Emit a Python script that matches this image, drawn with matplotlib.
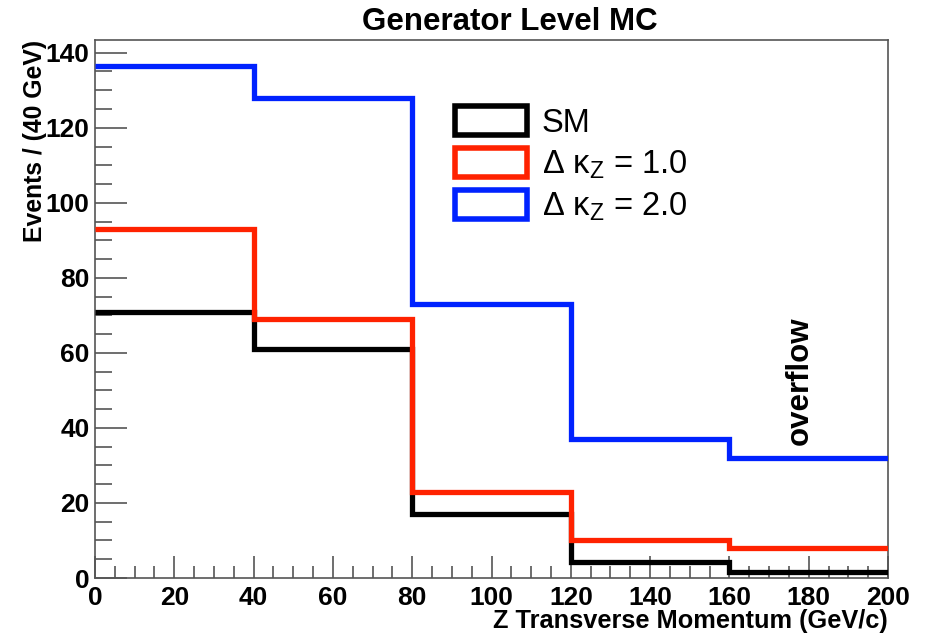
import matplotlib
matplotlib.use('Agg')
import matplotlib.pyplot as plt
from matplotlib.patches import Patch
from matplotlib.ticker import MultipleLocator
import numpy as np

plt.rcParams['font.family'] = ['Liberation Sans', 'DejaVu Sans']
plt.rcParams['mathtext.default'] = 'regular'

# bin edges (GeV/c) and contents per 40 GeV bin
edges = [0, 40, 80, 120, 160, 200]
sm = [71, 61, 17, 4.2, 1.6]
dk1 = [93, 69, 23, 10, 8]
dk2 = [136.5, 128, 73, 37, 32]

labels = ['SM', u'\u0394 \u03ba$_{Z}$ = 1.0', u'\u0394 \u03ba$_{Z}$ = 2.0']
colors = ['black', '#ff2200', '#0022ff']

fig = plt.figure(figsize=(9.26, 6.34), dpi=100)
ax = fig.add_axes([0.1026, 0.0883, 0.959 - 0.1026, 0.937 - 0.0883])

for vals, c in zip((sm, dk1, dk2), colors):
    ax.stairs(vals, edges, baseline=None, color=c, linewidth=3.8, zorder=3)

ax.set_xlim(0, 200)
ax.set_ylim(0, 143.4)

ax.xaxis.set_major_locator(MultipleLocator(20))
ax.xaxis.set_minor_locator(MultipleLocator(5))
ax.yaxis.set_major_locator(MultipleLocator(20))
ax.yaxis.set_minor_locator(MultipleLocator(5))
ax.tick_params(axis='both', which='both', direction='in', color='#555555',
               top=False, right=False)
ax.tick_params(axis='y', which='major', length=23, width=1.2, labelsize=19, pad=4)
ax.tick_params(axis='y', which='minor', length=12, width=1.2)
ax.tick_params(axis='x', which='major', length=16, width=1.2, labelsize=19, pad=5.5)
ax.tick_params(axis='x', which='minor', length=9, width=1.2)
for lab in ax.get_xticklabels() + ax.get_yticklabels():
    lab.set_fontweight('bold')
for s in ax.spines.values():
    s.set_color('#555555')
    s.set_linewidth(1.2)

ax.set_xlabel('Z Transverse Momentum (GeV/c)', fontsize=18.3, fontweight='bold',
              ha='right', va='baseline')
ax.xaxis.set_label_coords(1.0, -(628 - 578) / 538)
ax.set_ylabel('Events / (40 GeV)', loc='top', fontsize=17.8,
              fontweight='bold', labelpad=-1)

fig.text(510 / 926, 1 - 22 / 634, 'Generator Level MC', ha='center', va='center',
         fontsize=22.5, fontweight='bold')

ax.text(177.8, 35.5, 'overflow', rotation=90, ha='center', va='bottom',
        fontsize=22.5, fontweight='bold')

handles = [Patch(facecolor='none', edgecolor=c, linewidth=4) for c in colors]
ax.legend(handles, labels, loc='upper left', bbox_to_anchor=(0.438, 0.902),
          frameon=False, fontsize=23.5, handlelength=2.2, handleheight=1.0,
          labelspacing=0.28, handletextpad=0.45, borderaxespad=0)

fig.savefig('out.png', dpi=100)
